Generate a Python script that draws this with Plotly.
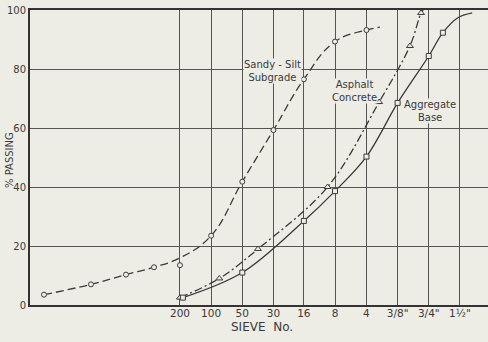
import plotly.graph_objects as go

# ---- data (sieve openings in mm, percent passing) ----
sieve_mm = [0.075, 0.15, 0.3, 0.6, 1.18, 2.36, 4.75, 9.5, 19, 38]
sieve_labels = ["200", "100", "50", "30", "16", "8", "4", "3/8\"", "3/4\"", "1½\""]
y_ticks = [0, 20, 40, 60, 80, 100]

silt_pts_x = [0.00364, 0.01035, 0.02255, 0.0421, 0.075, 0.15, 0.3, 0.6, 1.18, 2.36, 4.75]
silt_pts_y = [3.5, 7.0, 10.3, 12.8, 13.5, 23.5, 41.8, 59.3, 76.5, 89.3, 93.2]
silt_curve_x = [0.00364, 0.01035, 0.02255, 0.0421, 0.075, 0.15, 0.3, 0.6, 1.18, 2.36, 4.75, 6.4]
silt_curve_y = [3.5, 7.0, 10.3, 12.8, 16.0, 23.5, 41.8, 59.3, 76.5, 89.3, 93.2, 94.2]

asph_pts_x = [0.075, 0.18, 0.425, 2.0, 6.3, 12.5, 16]
asph_pts_y = [2.5, 9.0, 19.0, 40.0, 68.8, 87.8, 99.0]
asph_curve_x = [0.075, 0.18, 0.425, 2.0, 6.3, 12.5, 16, 16.8]
asph_curve_y = [2.5, 9.0, 19.0, 40.0, 68.8, 87.8, 99.0, 100.0]

agg_pts_x = [0.08, 0.3, 1.18, 2.36, 4.75, 9.5, 19, 26]
agg_pts_y = [2.5, 11.0, 28.5, 38.6, 50.3, 68.5, 84.4, 92.3]
agg_curve_x = [0.08, 0.3, 1.18, 2.36, 4.75, 9.5, 19, 26, 36, 50]
agg_curve_y = [2.5, 11.0, 28.5, 38.6, 50.3, 68.5, 84.4, 92.3, 97.3, 99.0]

INK = "#3a3a3a"
BG = "#eeede5"
FONT = "DejaVu Sans"

fig = go.Figure()

def add_series(cx, cy, px, py, dash, symbol, msize, smooth):
    fig.add_trace(go.Scatter(x=cx, y=cy, mode="lines",
                             line=dict(color=INK, width=1.3, dash=dash, shape="spline", smoothing=smooth),
                             hoverinfo="skip", showlegend=False))
    fig.add_trace(go.Scatter(x=px, y=py, mode="markers",
                             marker=dict(symbol=symbol, size=msize, color=BG,
                                         line=dict(color=INK, width=1)),
                             showlegend=False))

add_series(silt_curve_x, silt_curve_y, silt_pts_x, silt_pts_y, "8px,4px", "circle", 5, 1.2)
add_series(asph_curve_x, asph_curve_y, asph_pts_x, asph_pts_y, "8px,3px,2px,3px", "triangle-up", 6, 1.0)
add_series(agg_curve_x, agg_curve_y, agg_pts_x, agg_pts_y, "solid", "square", 5, 1.0)

W, H = 488, 342
L, R, T, B = 30, 0, 10, 37
pw, ph = W - L - R, H - T - B

def px(xp):
    return (xp - L) / pw

def py(yp):
    return (H - B - yp) / ph

labels = [
    ("Sandy - Silt<br>Subgrade", 272, 71),
    ("Asphalt<br>Concrete", 354, 91),
    ("Aggregate<br>Base", 430, 111),
]
for text, xx, yy in labels:
    fig.add_annotation(x=px(xx), y=py(yy), xref="paper", yref="paper", text=text,
                       xanchor="center", yanchor="middle",
                       showarrow=False, align="center", bgcolor=BG, borderpad=0,
                       font=dict(family=FONT, size=10, color=INK))

fig.add_annotation(x=px(9), y=py(160), xref="paper", yref="paper", text="% PASSING",
                   xanchor="center", yanchor="middle",
                   textangle=-90, showarrow=False,
                   font=dict(family=FONT, size=10, color=INK))
fig.add_annotation(x=px(262), y=py(327), xref="paper", yref="paper", text="SIEVE  No.",
                   xanchor="center", yanchor="middle",
                   showarrow=False, font=dict(family=FONT, size=12, color=INK))

fig.update_layout(
    width=W, height=H,
    margin=dict(l=L, r=R, t=T, b=B, autoexpand=False),
    paper_bgcolor=BG, plot_bgcolor=BG,
    font=dict(family=FONT, size=10, color=INK),
    xaxis=dict(type="log", range=[-2.574, 1.851], tickvals=sieve_mm, ticktext=sieve_labels,
               showgrid=True, gridcolor="#555555", gridwidth=1, automargin=False,
               showline=True, linecolor="#333333", linewidth=2, mirror=True,
               ticks="", zeroline=False, tickfont=dict(size=10.5), ticklabelstandoff=-3),
    yaxis=dict(range=[0, 100], tickvals=y_ticks, showgrid=True, gridcolor="#555555", gridwidth=1,
               showline=True, linecolor="#333333", linewidth=2, automargin=False,
               ticks="", zeroline=False, tickfont=dict(size=10)),
)

fig.write_html("out.html", config={"displayModeBar": False},
               post_script="document.body.style.margin='0px';document.body.style.overflow='hidden';")
